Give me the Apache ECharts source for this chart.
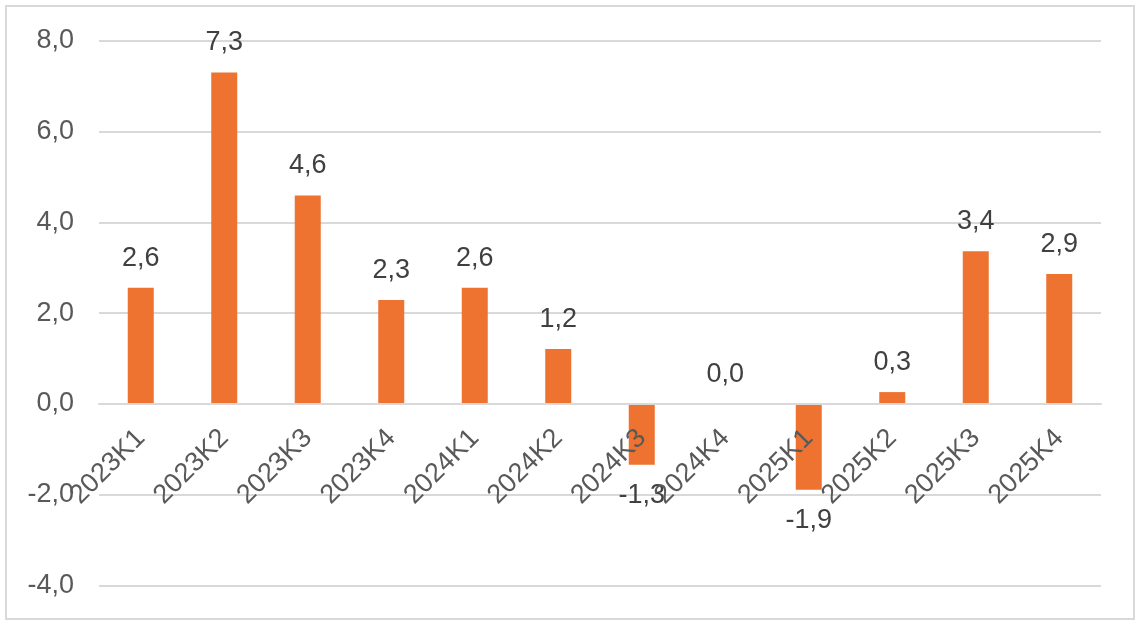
<!DOCTYPE html>
<html>
<head>
<meta charset="utf-8">
<script src="https://cdn.jsdelivr.net/npm/echarts@6/dist/echarts.min.js"></script>
<style>
html,body{margin:0;padding:0;background:#fff;}
#chart{width:1142px;height:624px;}
</style>
</head>
<body>
<div id="chart"></div>
<script>
const categories = ['2023K1','2023K2','2023K3','2023K4','2024K1','2024K2','2024K3','2024K4','2025K1','2025K2','2025K3','2025K4'];
const values = [2.56, 7.3, 4.59, 2.29, 2.56, 1.21, -1.34, 0.0, -1.89, 0.26, 3.36, 2.86];
const yTicks = { min: -4, max: 8, interval: 2 };

const fmt = v => v.toFixed(1).replace('.', ',');
const FONT = "'Liberation Sans', Arial, sans-serif";

const chart = echarts.init(document.getElementById('chart'), null, { renderer: 'canvas' });
chart.setOption({
  backgroundColor: '#ffffff',
  animation: false,
  graphic: [{
    type: 'rect',
    shape: { x: 6, y: 6, width: 1128, height: 613 },
    style: { fill: 'none', stroke: '#d9d9d9', lineWidth: 2 },
    silent: true
  }],
  grid: { left: 99, right: 41, top: 40.7, bottom: 38.5, containLabel: false, outerBoundsMode: 'none' },
  xAxis: {
    type: 'category',
    data: categories,
    position: 'bottom',
    offset: -181.6,
    z: 10,
    axisLine: { onZero: false, lineStyle: { color: '#d9d9d9', width: 2 } },
    axisTick: { show: false },
    axisLabel: {
      interval: 0, rotate: 45, margin: 30,
      fontSize: 27, color: '#595959', fontFamily: FONT
    }
  },
  yAxis: {
    type: 'value',
    min: yTicks.min, max: yTicks.max, interval: yTicks.interval,
    axisLine: { show: false },
    axisTick: { show: false },
    splitLine: { lineStyle: { color: '#d9d9d9', width: 2 } },
    axisLabel: {
      margin: 25, fontSize: 27, color: '#595959', fontFamily: FONT,
      formatter: v => fmt(v)
    }
  },
  series: [{
    type: 'bar',
    barWidth: 26,
    z: 2,
    itemStyle: { color: '#ee7230' },
    data: values.map(v => ({
      value: v,
      label: { position: v < 0 ? 'bottom' : 'top', distance: v < 0 ? 17 : 16 }
    })),
    label: {
      show: true,
      fontSize: 27, color: '#404040', fontFamily: FONT,
      formatter: p => fmt(p.value)
    }
  }]
});
</script>
</body>
</html>
